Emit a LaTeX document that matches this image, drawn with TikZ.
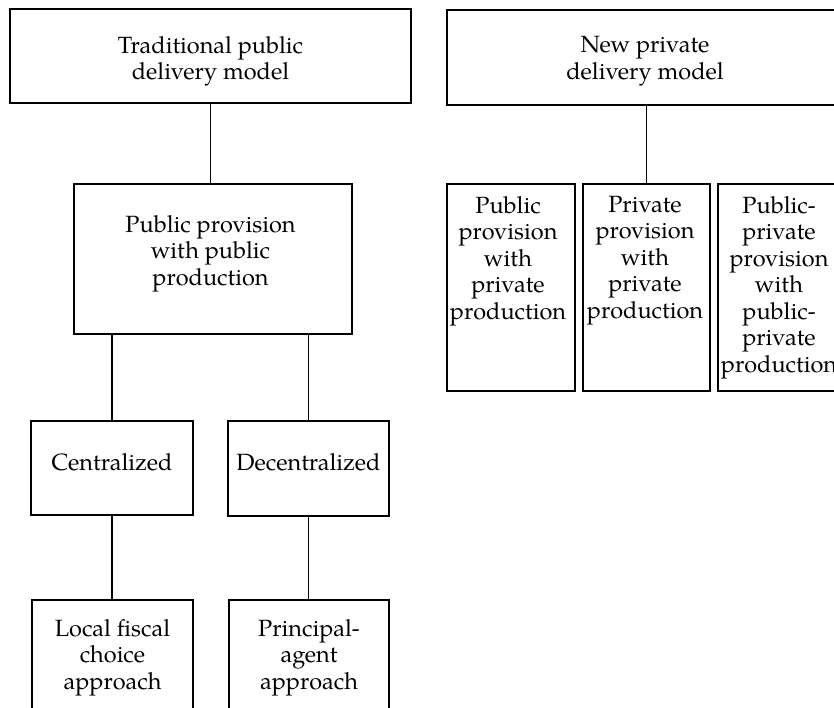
\documentclass[tikz,border=0pt]{standalone}
\usepackage{fontspec}
\setmainfont{TeX Gyre Pagella}
\begin{document}
\begin{tikzpicture}[x=1pt,y=-1pt,
  box/.style={draw=black,line width=1.4pt,inner sep=0pt},
  txt/.style={align=center,inner sep=0pt,anchor=north,font=\fontsize{23.5}{26.5}\selectfont},
  link/.style={draw=black,line width=1.4pt}]
\useasboundingbox (0,0) rectangle (834,708);
\clip (0,0) rectangle (834,708);
\fill[white] (0,0) rectangle (834,708);
% left branch
\node[box,minimum width=401pt,minimum height=94pt] (trad) at (210.5,56) {};
\node[box,minimum width=278pt,minimum height=150pt] (pubpub) at (213,259) {};
\node[box,minimum width=162pt,minimum height=94pt] (cent) at (112,468) {};
\node[box,minimum width=161pt,minimum height=95pt] (decent) at (308.5,468.5) {};
\node[box,minimum width=161pt,minimum height=140pt] (local) at (112.5,670) {};
\node[box,minimum width=160pt,minimum height=140pt] (princ) at (309,670) {};
% right branch
\node[box,minimum width=400pt,minimum height=95pt] (newpriv) at (647,57.5) {};
\node[box,minimum width=128pt,minimum height=207pt] (pa) at (511,287.5) {};
\node[box,minimum width=127pt,minimum height=207pt] (pb) at (646.5,287.5) {};
\node[box,minimum width=128pt,minimum height=207pt] (pc) at (782,287.5) {};
% texts
\node[txt] (tradT) at (210.5,36) {Traditional public\\delivery model};
\node[txt] (pubpubT) at (210.5,215) {Public provision\\with public\\production};
\node[txt] (centT) at (112,453) {Centralized};
\node[txt] (decentT) at (308.5,453) {Decentralized};
\node[txt] (localT) at (112.5,619) {Local fiscal\\choice\\approach};
\node[txt] (princT) at (309,619) {Principal-\\agent\\approach};
\node[txt] (newprivT) at (645,36.5) {New private\\delivery model};
\node[txt] (paT) at (508,196) {Public\\provision\\with\\private\\production};
\node[txt] (pbT) at (645,196) {Private\\provision\\with\\private\\production};
\node[txt] (pcT) at (779,196) {Public-\\private\\provision\\with\\public-\\private\\production};
% connectors
\draw[link] (trad.south) -- (trad.south |- pubpub.north);
\draw[link] (cent.north) -- (cent.north |- pubpub.south);
\draw[link] (decent.north) -- (decent.north |- pubpub.south);
\draw[link] (cent.south) -- (cent.south |- local.north);
\draw[link] (decent.south) -- (decent.south |- princ.north);
\draw[link] (pb.north) -- (pb.north |- newpriv.south);
\end{tikzpicture}
\end{document}
